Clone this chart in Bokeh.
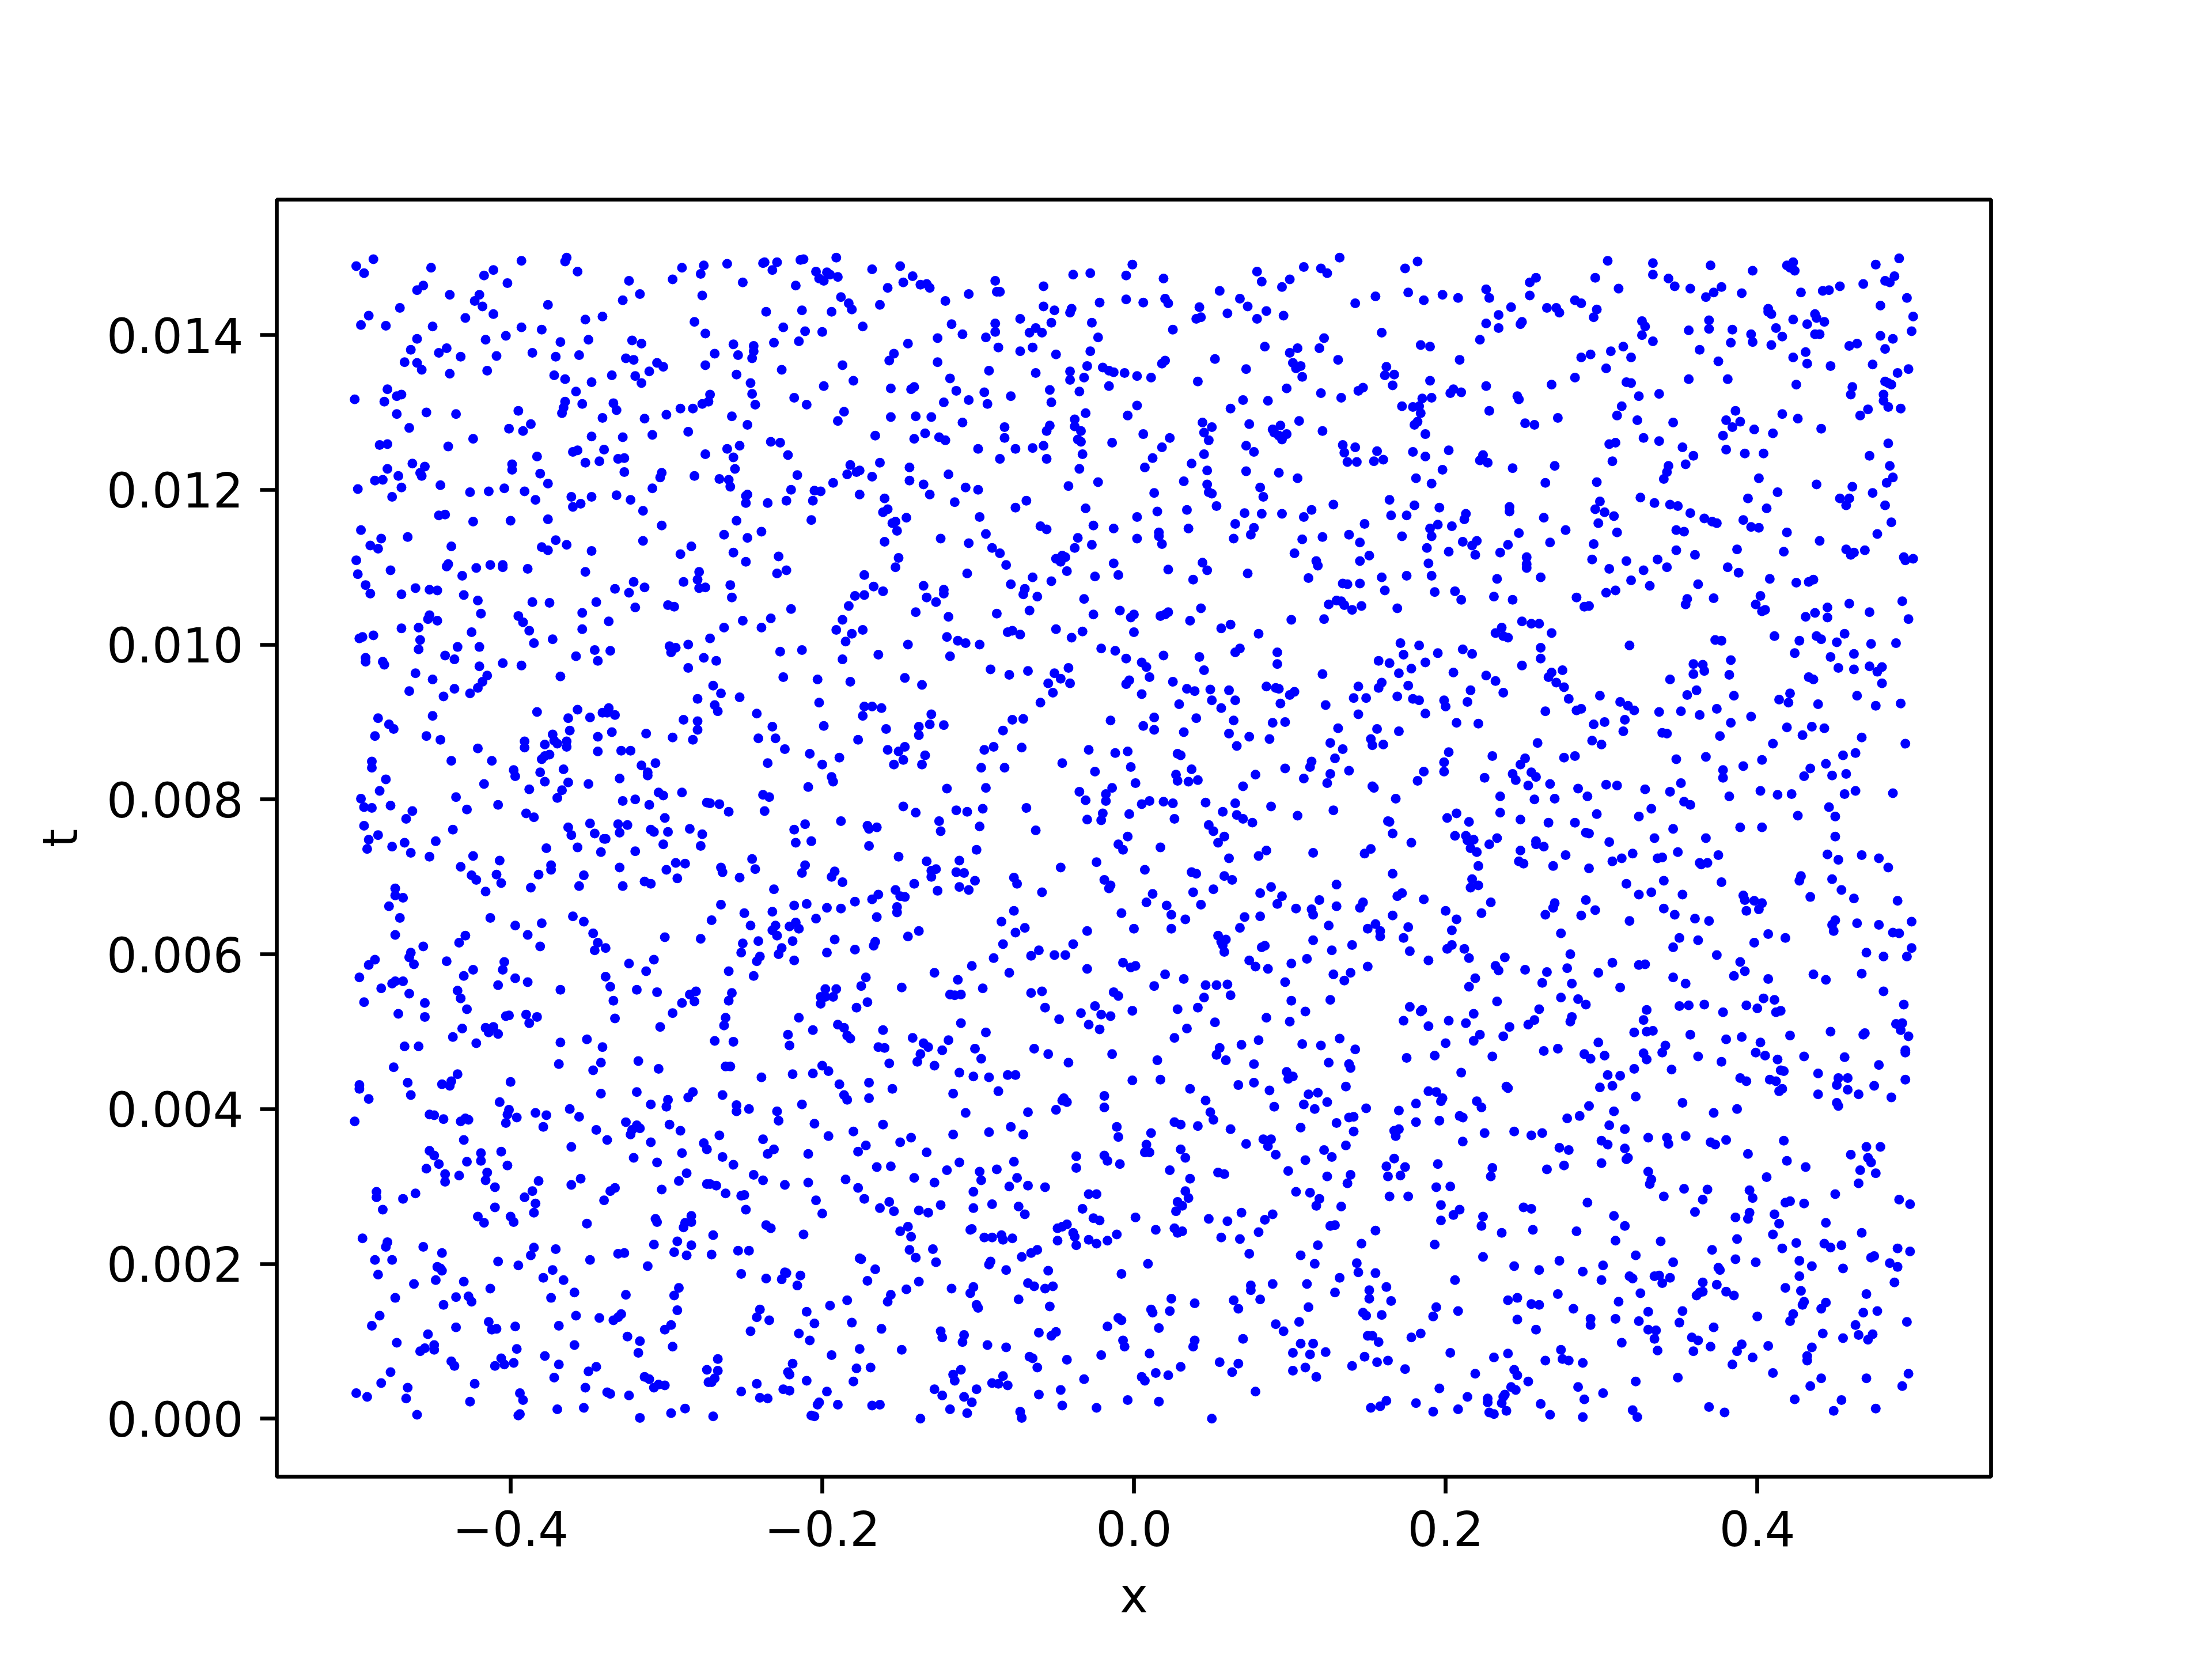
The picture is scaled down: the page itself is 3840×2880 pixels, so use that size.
from bokeh.plotting import figure
from bokeh.models import Range1d, FixedTicker
from bokeh.embed import file_html
from bokeh.resources import INLINE

# Each point: (x in thousandths, t in units of 1e-5)
top_a = [
(-488,1498),(-499,1489),(-494,1480),(-451,1487),(-417,1477),(-411,1484),(-393,1496),(-364,1500),(-365,1495),(-357,1482),(-402,1467),(-456,1464),(-460,1458),(-439,1452),(-420,1452),(-423,1444),(-418,1437),(-471,1435),(-491,1425),(-496,1413),(-480,1412),(-450,1411),(-429,1422),(-411,1427),(-376,1439),(-324,1470),(-317,1453),(-328,1445),(-296,1472),(-290,1487),(-276,1490),(-278,1479),(-277,1451),(-282,1417),(-275,1402),(-341,1424),(-352,1420),(-393,1410),(-380,1407),(-350,1394),(-368,1391),(-403,1399),(-416,1394),(-460,1395),(-464,1381),(-441,1383),(-446,1377),(-432,1372),(-409,1373),(-386,1377),(-371,1372),(-356,1374),(-322,1393),(-316,1389),(-326,1370),(-321,1368),(-306,1364),(-302,1359),(-311,1353),(-275,1361),(-335,1348),(-320,1347),(-316,1338),(-372,1348),(-365,1343),(-348,1339),(-468,1365),(-460,1364),(-457,1355),(-439,1350),(-415,1354),
(-479,1330),(-470,1323),(-473,1321),(-500,1317),(-481,1314),(-473,1298),(-454,1300),(-435,1298),(-395,1302),(-358,1327),(-365,1314),(-366,1306),(-367,1299),(-354,1311),(-334,1312),(-332,1303),(-341,1293),(-314,1292),(-300,1297),(-291,1305),(-283,1305),(-277,1311),
(-465,1280),(-401,1279),(-387,1285),(-392,1276),(-348,1269),(-328,1268),(-309,1271),(-286,1275),(-424,1266),(-484,1258),(-479,1259),(-440,1256),(-357,1251),(-360,1249),(-340,1252),(-275,1246),(-383,1243),(-331,1240),(-327,1241),(-352,1235),(-343,1237),(-399,1233),(-399,1226),(-463,1234),(-455,1230),(-479,1227),(-458,1222),(-457,1218),(-472,1218),(-381,1221),(-327,1223),(-303,1222),(-304,1216),(-282,1218),(-487,1212),(-482,1213),(-376,1208),(-498,1201),(-470,1203),(-445,1206),(-426,1197),(-414,1198),(-404,1202),(-391,1198),(-309,1202),(-476,1191),(-361,1191),(-348,1191),(-332,1193),(-384,1187),(-323,1187),(-355,1182),(-360,1178),(-315,1173),(-446,1167),(-442,1168),(-424,1159),(-400,1160),(-376,1162),(-303,1154),(-496,1148),(-483,1137),(-466,1139),(-371,1135),(-315,1134),(-490,1128),(-485,1124),(-438,1127),(-380,1126),(-376,1122),(-364,1129),(-348,1121),(-284,1127),(-291,1117),(-499,1109),(-440,1104),(-441,1101),(-413,1103),(-405,1103),(-405,1100),(-422,1099),(-389,1098),(-477,1096),(-498,1091),(-352,1094),(-431,1089),(-279,1094),(-280,1084),(-289,1081),(-321,1081),(-493,1077),(-279,1073),(-275,1074),(-314,1074),(-333,1072),(-324,1067),(-461,1073),(-452,1071),(-447,1070),(-490,1066),(-470,1065),(-430,1064),(-421,1057),(-386,1055),(-375,1054),(-345,1055),(-299,1051),(-295,1049),(-320,1048),(-419,1040),(-452,1038),(-453,1033),(-447,1031),(-395,1037),(-392,1029),(-354,1041),(-337,1030),
]
top_b = [
(-261,1492),(-238,1493),(-237,1494),(-229,1494),(-232,1484),(-214,1497),(-212,1498),(-191,1500),(-204,1482),(-197,1481),(-195,1478),(-190,1475),(-202,1473),(-199,1470),(-168,1485),(-150,1489),(-142,1476),(-148,1468),(-137,1465),(-133,1466),(-131,1461),(-158,1461),(-251,1468),(-217,1464),(-121,1444),(-106,1453),(-89,1470),(-88,1456),(-86,1456),(-58,1463),(-39,1478),(-28,1480),(-5,1477),(-1,1491),(-5,1446),(-22,1442),(-58,1437),(-51,1432),(-40,1434),(-41,1429),
(-188,1449),(-183,1441),(-181,1433),(-163,1439),(-194,1430),(-236,1430),(-213,1432),(-73,1421),(-89,1415),(-89,1404),(-117,1414),(-110,1401),(-95,1397),(-126,1396),(-53,1416),(-27,1416),(-63,1409),(-67,1403),(-59,1403),(-23,1397),(-174,1411),(-225,1410),(-211,1405),(-200,1404),(-215,1392),(-231,1390),(-257,1388),(-244,1386),(-244,1379),(-269,1376),(-254,1374),(-245,1370),(-145,1389),(-154,1376),(-157,1367),(-87,1384),(-73,1379),(-65,1384),(-50,1375),(-28,1379),(-126,1365),(-187,1361),(-93,1354),(-63,1351),(-41,1353),(-30,1360),(-20,1358),(-16,1354),(-13,1352),(-6,1351),(2,1347),(-226,1355),(-255,1349),(-246,1338),(-180,1341),(-118,1344),(-41,1342),(-32,1345),(-199,1334),(-156,1331),(-143,1330),(-141,1333),(-16,1334),(-114,1328),(-96,1326),(-79,1321),(-54,1329),(-35,1327),(-245,1324),(-272,1323),(-273,1314),(-218,1319),(-106,1316),(-122,1313),(-94,1311),(-53,1313),(-243,1310),(-210,1310),(2,1309),(-186,1301),(-258,1295),(-156,1294),(-140,1295),(-130,1294),(-31,1299),(-4,1296),(-190,1289),(-38,1291),(-248,1284),(-110,1287),(-83,1281),(-54,1283),(-56,1276),(-38,1282),(-34,1276),(-166,1270),(-134,1273),(-125,1268),(-121,1264),(-141,1266),(-83,1267),(-36,1265),(-34,1262),(-14,1261),(-233,1262),(-227,1261),(-253,1257),(-261,1253),(-100,1253),(-76,1253),(-65,1254),(-58,1257),(-33,1246),(-222,1245),(-257,1242),(-86,1240),(-56,1240),(-163,1235),(-182,1232),(-144,1229),(-256,1227),(-176,1225),(-178,1223),(-35,1227),(-216,1219),(-184,1220),(-168,1217),(-119,1220),(-144,1212),(-266,1214),(-260,1213),(-259,1204),(-193,1209),(-23,1210),(-135,1207),(-42,1205),(-108,1203),(-100,1200),(-220,1200),(-205,1199),(-201,1198),(-248,1194),(-249,1192),(-176,1194),(-131,1194),(-160,1189),(-223,1186),(-206,1186),(-249,1183),(-235,1183),(-115,1184),(-69,1186),(-76,1177),(-158,1175),(-161,1171),(-31,1176),(-146,1164),(-99,1165),(2,1165),(-255,1160),(-207,1161),(-153,1159),(-155,1157),(-60,1153),(-56,1149),(-26,1154),(-13,1150),(-152,1147),(-239,1146),(-263,1142),(-248,1138),(-160,1133),(-124,1137),(-95,1143),(-106,1131),(-36,1138),(-27,1129),(2,1137),(-91,1125),(-86,1118),(-38,1125),(-257,1119),(-228,1114),(-151,1112),(-249,1107),(-82,1103),(-50,1111),(-46,1115),(-44,1113),(-47,1107),(-13,1105),(-153,1100),(-223,1096),(-229,1092),(-107,1092),(-43,1095),(-173,1090),(-65,1087),(-25,1088),(-10,1090),(-53,1082),(-259,1077),(-79,1078),(-135,1076),(-167,1075),(-122,1071),(-122,1066),(-161,1069),(-70,1072),(-71,1065),(-258,1061),(-173,1064),(-179,1063),(-62,1062),(-133,1061),(-127,1055),(-32,1059),(-183,1050),(-220,1046),(-9,1044),(-140,1042),(-67,1044),(-88,1040),(-26,1039),(-119,1036),(0,1039),(-2,1035),(-233,1034),(-251,1031),(-187,1032),
]
top_c = [
(132,1500),(182,1495),(174,1486),(109,1488),(120,1486),(124,1480),(79,1482),(19,1473),(82,1469),(100,1472),(95,1462),(55,1457),(258,1474),(254,1468),(226,1459),(176,1455),(155,1450),(68,1447),(20,1447),(22,1441),(6,1442),(186,1445),(198,1452),(208,1448),(228,1448),(254,1451),(142,1441),(73,1437),(42,1436),(242,1436),(265,1435),(271,1435),(273,1429),(85,1431),(60,1428),(96,1425),(234,1426),(43,1423),(40,1421),(79,1421),(249,1417),(248,1414),(226,1415),(234,1409),(25,1407),(159,1403),(122,1396),(222,1394),(184,1387),(190,1385),(84,1385),(105,1383),(119,1383),(100,1377),(209,1368),(52,1369),(20,1367),(18,1363),(131,1368),(102,1364),(107,1360),(104,1357),(162,1359),(72,1356),(167,1349),(161,1348),(108,1346),(11,1345),(41,1340),(190,1341),(166,1335),(226,1334),(268,1336),(147,1332),(144,1328),(98,1331),(120,1325),(133,1319),(205,1330),(203,1325),(210,1326),(191,1319),(185,1318),(246,1321),(247,1317),(70,1316),(86,1315),(172,1308),(179,1307),(183,1308),(184,1299),(62,1305),(228,1302),(44,1287),(106,1289),(272,1293),(182,1288),(180,1284),(74,1285),(251,1286),(257,1284),(50,1281),(94,1283),(89,1278),(90,1274),(121,1276),(45,1274),(6,1272),(187,1272),(98,1272),(93,1270),(23,1267),(95,1265),(48,1264),(18,1255),(72,1257),(134,1258),(142,1255),(77,1249),(156,1250),(179,1249),(202,1251),(135,1248),(45,1246),(187,1243),(224,1245),(12,1241),(160,1239),(154,1237),(137,1236),(143,1236),(222,1238),(227,1235),(37,1234),(7,1229),(243,1228),(270,1231),(47,1225),(72,1224),(198,1226),(93,1222),(105,1215),(181,1215),(32,1211),(191,1208),(264,1209),(47,1207),(81,1203),(48,1197),(50,1195),(13,1196),(83,1191),(164,1187),(128,1181),(53,1179),(180,1180),(196,1177),(241,1178),(241,1172),(114,1174),(34,1174),(15,1172),(71,1170),(82,1169),(95,1169),(165,1167),(175,1167),(109,1165),(213,1169),(212,1162),(263,1164),(65,1156),(148,1156),(195,1155),(204,1153),(77,1151),(35,1150),(190,1150),(277,1148),(16,1145),(247,1144),(16,1140),(75,1142),(138,1142),(121,1139),(172,1140),(191,1140),(64,1137),(108,1136),(220,1134),(145,1132),(18,1130),(211,1133),(217,1128),(267,1132),(240,1129),(188,1125),(202,1120),(235,1119),(103,1118),(151,1115),(219,1116),(117,1108),(44,1106),(118,1102),(145,1108),(252,1113),(189,1105),(252,1104),(252,1099),(22,1097),(47,1096),(73,1092),(191,1089),(175,1089),(159,1087),(112,1086),(38,1084),(233,1085),(261,1087),(134,1079),(137,1078),(145,1079),(161,1070),(193,1068),(206,1069),(210,1058),(231,1062),(243,1058),(130,1057),(133,1056),(125,1052),(135,1051),(146,1050),(140,1045),(169,1047),(43,1047),(22,1042),(20,1039),(17,1037),(36,1031),(101,1032),(122,1033),(249,1030),(255,1027),(260,1027),
]
top_d = [
(304,1496),(491,1499),(333,1493),(370,1490),(423,1494),(419,1490),(421,1487),(424,1483),(397,1483),(476,1491),(296,1474),(333,1478),(343,1473),(488,1476),(482,1470),(485,1468),(311,1460),(347,1463),(357,1460),(377,1462),(372,1455),(367,1449),(390,1454),(428,1455),(442,1457),(446,1458),(453,1463),(468,1466),(496,1448),(283,1445),(287,1441),(479,1438),(297,1433),(295,1423),(407,1434),(407,1430),(409,1427),(437,1427),(438,1422),(443,1417),(500,1424),(326,1418),(328,1411),(369,1419),(369,1408),(423,1420),(432,1414),(356,1406),(384,1407),(412,1409),(499,1405),(326,1400),(396,1401),(437,1401),(440,1401),(416,1398),(479,1399),(487,1395),(333,1392),(397,1391),(383,1390),(409,1387),(464,1389),(459,1386),(314,1385),(306,1379),(363,1381),(482,1382),(431,1378),(293,1375),(287,1371),(319,1371),(423,1371),(375,1366),(432,1363),(447,1360),(474,1362),(303,1357),(497,1356),(490,1351),(283,1345),(356,1343),(381,1343),(316,1339),(319,1338),(482,1340),(484,1338),(486,1336),(425,1336),(461,1333),(337,1324),(324,1321),(460,1323),(481,1323),(481,1315),(313,1308),(484,1307),(492,1305),(471,1304),(386,1302),(416,1298),(466,1296),(310,1296),(426,1292),(380,1290),(389,1288),(323,1290),(346,1287),(384,1281),(398,1278),(441,1279),(410,1273),(378,1270),(327,1267),(305,1259),(309,1261),(337,1263),(484,1260),(352,1255),(380,1252),(359,1244),(392,1247),(404,1247),(472,1244),(307,1237),(354,1233),(343,1231),(485,1231),(342,1223),(340,1214),(401,1215),(487,1216),(297,1210),(483,1209),(438,1207),(461,1204),(413,1197),(474,1196),(325,1190),(394,1189),(453,1189),(459,1189),(299,1185),(334,1183),(344,1181),(349,1179),(457,1180),(482,1180),(296,1175),(406,1176),(302,1171),(357,1170),(308,1166),(366,1163),(391,1161),(371,1159),(374,1157),(298,1157),(486,1158),(396,1152),(401,1151),(348,1148),(353,1146),(310,1145),(419,1145),(477,1143),(440,1134),(295,1130),(387,1123),(457,1123),(462,1119),(460,1116),(469,1122),(348,1122),(417,1120),(360,1116),(494,1113),(495,1109),(500,1111),(294,1110),(316,1108),(336,1110),(342,1100),(305,1098),(327,1096),(381,1100),(388,1093),(319,1083),(408,1085),(425,1080),(436,1084),(433,1081),(331,1076),(362,1078),(309,1070),(303,1067),(402,1063),(284,1061),(355,1059),(372,1060),(354,1052),(493,1056),(399,1052),(292,1050),(289,1049),(459,1053),(445,1048),(472,1042),(405,1045),(403,1043),(437,1041),(431,1036),(445,1035),(497,1033),
]
mid_a = [
(-497,1008),(-495,1010),(-488,1012),(-470,1021),(-459,1022),(-458,1006),(-459,994),(-425,1016),(-388,1018),(-385,1002),(-373,1007),(-354,1020),(-434,997),(-420,997),(-346,993),(-336,992),(-358,985),(-344,979),(-298,998),(-294,996),(-297,990),(-286,1000),(-276,983),(-442,986),(-436,981),(-493,983),(-493,978),(-482,978),(-481,974),(-405,976),(-420,972),(-393,973),(-286,970),(-461,963),(-450,955),(-415,960),(-418,952),(-421,944),(-368,959),(-436,943),(-426,937),(-465,940),(-443,933),(-280,930),(-337,918),(-341,912),(-338,912),(-333,909),(-357,916),(-349,906),(-363,905),(-383,913),(-450,908),(-485,905),(-478,897),(-475,891),(-289,903),(-280,901),(-280,890),(-362,889),(-335,887),(-313,885),(-487,882),(-454,882),(-344,881),(-296,880),(-445,877),(-283,877),(-373,884),(-372,876),(-370,872),(-378,871),(-364,875),(-364,868),(-391,875),(-391,867),(-421,866),(-344,862),(-329,863),(-323,863),(-375,858),(-378,856),(-380,852),(-489,849),(-438,850),(-412,850),(-307,847),(-316,844),(-489,841),(-398,838),(-366,839),(-381,835),(-312,835),(-312,831),(-397,830),(-480,826),(-330,827),(-378,823),(-363,822),(-417,820),(-350,820),(-484,811),(-388,813),(-367,812),(-305,809),(-290,809),(-302,805),(-496,801),(-435,803),(-370,802),(-328,798),(-320,800),(-274,796),(-494,790),(-489,789),(-477,792),(-408,793),(-311,793),(-428,787),(-463,785),(-390,782),(-385,777),(-467,775),(-301,776),(-331,768),(-325,767),(-349,769),(-494,766),(-363,764),(-437,761),(-310,761),(-285,762),(-308,758),(-299,758),(-330,757),(-346,756),(-361,754),(-277,755),(-485,754),(-340,749),(-339,749),(-491,748),(-448,746),(-468,744),(-302,742),(-278,740),(-476,739),(-377,737),(-357,738),(-492,736),(-342,732),(-320,733),(-464,731),(-452,726),(-424,727),(-407,721),(-294,718),(-288,717),(-432,713),(-374,715),(-374,709),(-330,712),(-300,709),(-425,702),(-409,703),(-382,703),(-353,702),(-422,696),(-406,692),(-293,698),(-314,694),(-310,691),(-356,688),(-328,688),(-387,686),(-474,685),(-416,681),(-474,676),(-469,673),(-478,662),(-360,649),(-353,642),(-413,647),(-471,647),(-397,637),(-380,640),(-429,624),(-389,625),(-474,625),(-347,627),(-301,622),(-278,620),(-433,615),(-344,615),(-456,610),(-381,610),(-339,608),(-346,605),(-464,602),(-465,596),(-487,593),(-491,586),(-441,591),(-462,587),(-308,593),(-324,588),(-404,590),(-405,580),(-424,580),(-430,572),(-313,578),(-497,570),(-397,569),(-339,571),(-469,565),(-474,565),(-476,562),(-389,564),(-408,560),(-336,558),(-483,556),(-368,554),(-319,554),(-434,553),(-306,551),(-281,552),(-285,548),(-465,549),(-432,543),(-334,540),(-282,539),(-494,538),(-455,537),(-290,537),(-428,529),(-296,524),(-472,523),(-390,522),(-403,520),(-401,521),(-383,519),(-455,519),(-333,517),(-388,511),(-304,506),(-431,504),(-416,505),(-411,506),(-414,499),(-408,497),(-437,493),(-351,490),(-368,486),(-422,485),(-468,481),(-459,481),(-341,480),
]
mid_b = [
(-272,1008),(-263,1022),(-239,1022),(-191,1019),(-181,1014),(-174,1019),(-185,1004),(-145,1000),(-120,1010),(-113,1005),(-108,1002),(-99,1000),(-81,1016),(-78,1018),(-73,1013),(-50,1020),(-40,1009),(-33,1017),(0,1016),(-227,991),(-213,993),(-164,987),(-187,981),(-118,985),(-21,995),(-12,992),(-5,982),(-268,979),(-92,968),(-80,961),(-68,966),(-42,970),(-51,963),(-47,956),(-55,950),(-41,950),(-52,938),(-3,954),(-5,949),(-225,958),(-203,955),(-182,952),(-147,957),(-136,948),(-270,947),(-265,937),(-253,932),(-202,925),(-60,925),(-269,922),(-267,914),(-173,920),(-168,920),(-162,918),(-242,911),(-130,910),(-174,908),(-131,897),(-122,896),(-78,903),(-71,904),(-15,902),(-232,894),(-199,895),(-138,894),(-159,891),(-84,889),(-138,883),(-241,879),(-230,879),(-177,877),(-147,868),(-90,868),(-72,867),(-224,865),(-158,864),(-96,864),(-29,864),(-151,862),(-4,862),(-12,860),(-208,859),(-189,854),(-134,857),(-148,851),(-235,847),(-46,847),(-200,845),(-154,845),(-136,845),(-98,841),(-83,841),(-2,842),(-25,836),(-194,829),(-193,823),(1,821),(-209,816),(-120,814),(-95,815),(-14,815),(-35,810),(-18,807),(-238,806),(-234,803),(-31,799),(-18,798),(-266,794),(-272,795),(-260,784),(-237,785),(-148,791),(-114,786),(-97,788),(-69,789),(-140,783),(-107,784),(-20,782),(-3,781),(-188,772),(-125,772),(-30,774),(-21,773),(-211,768),(-171,766),(-165,764),(-170,762),(-99,765),(-218,761),(-124,759),(-63,760),(-207,746),(-217,744),(-4,752),(-10,742),(-170,740),(-7,735),(-101,735),(-151,726),(-245,723),(-112,721),(-133,720),(-24,719),(-211,715),(-47,712),(-265,712),(-243,710),(-264,706),(-127,710),(-130,708),(-114,706),(-192,707),(-109,705),(-213,705),(-194,700),(-253,699),(-130,700),(-77,699),(-19,696),(-187,693),(-102,695),(-75,691),(-141,691),(-15,689),(-16,685),(-112,687),(-231,684),(-153,683),(-106,683),(-126,682),(-59,680),(-164,677),(-150,675),(-147,674),(-168,671),(-179,668),(-265,664),(-218,663),(-210,665),(-197,660),(-188,659),(-152,661),(-152,654),(-77,656),(-232,655),(-250,653),(-8,653),(-271,644),(-165,648),(-204,646),(-85,642),(-217,641),(-246,637),(-230,637),(-221,636),(-215,633),(-232,631),(-70,634),(0,633),(-138,630),(-30,630),(-76,628),(-229,624),(-145,623),(-192,619),(-241,617),(-219,617),(-251,614),(-166,616),(-167,611),(-84,613),(-39,613),(-226,608),(-179,606),(-61,605),(-252,602),(-197,602),(-228,600),(-66,598),(-51,599),(-44,599),(-240,597),(-218,592),(-242,591),(-90,595),(-7,589),(-104,585),(1,585),(-2,583),(-30,581),(-260,578),(-128,576),(-80,576),(-244,572),(-172,570),(-113,567),(-175,559),(-149,557),(-97,556),(-198,555),(-191,555),(-258,550),(-59,552),(-13,551),(-66,550),(-118,548),(-115,547),(-111,548),(-201,545),(-198,545),(-193,545),(-10,546),(-260,540),(-171,538),(-201,536),(-25,533),(-178,531),(-57,531),(-34,524),(-1,527),(-21,522),(-15,520),(-215,518),(-262,518),(-48,516),(-263,508),(-190,509),(-111,511),(-186,505),(-29,509),(-161,502),(-206,502),(-22,503),(-95,499),(-222,496),(-184,495),(-182,491),(-142,492),(-269,488),(-257,487),(-135,485),(-119,489),(-132,480),(-221,482),(-164,480),(-160,479),(-123,476),(-102,478),(-64,478),
]
mid_c = [
(56,1021),(62,1026),(80,1014),(232,1015),(236,1022),(237,1011),(240,1009),(268,1015),(171,1002),(183,999),(195,989),(211,994),(217,988),(261,996),(261,982),(68,995),(65,990),(92,990),(92,975),(19,986),(42,984),(157,979),(164,976),(187,977),(173,987),(5,977),(8,971),(45,967),(10,958),(121,962),(170,963),(178,969),(205,964),(249,973),(226,960),(268,964),(275,967),(266,958),(232,953),(25,952),(271,951),(159,951),(157,944),(144,946),(176,947),(85,946),(91,944),(93,943),(34,943),(39,940),(49,942),(61,941),(276,945),(216,941),(237,938),(103,939),(100,935),(5,936),(169,933),(141,931),(149,931),(179,930),(183,928),(199,928),(279,930),(50,928),(65,928),(214,926),(29,923),(94,924),(123,922),(200,920),(56,918),(264,914),(187,911),(144,910),(13,906),(40,905),(64,902),(89,899),(97,900),(207,899),(221,898),(6,895),(131,892),(156,891),(13,890),(170,888),(32,887),(61,885),(74,881),(87,878),(152,878),(259,873),(126,873),(153,870),(160,871),(66,869),(134,865),(28,859),(30,857),(202,861),(230,856),(129,853),(251,853),(276,854),(199,848),(248,845),(114,849),(113,842),(37,839),(97,840),(199,836),(186,836),(27,832),(78,832),(126,833),(138,837),(243,833),(255,835),(258,829),(109,827),(225,828),(245,825),(28,824),(35,823),(41,825),(182,824),(124,821),(267,820),(253,818),(70,817),(153,817),(154,815),(235,804),(168,801),(257,800),(270,801),(10,798),(5,794),(19,797),(25,795),(46,796),(65,795),(88,791),(57,784),(128,786),(207,782),(235,783),(66,780),(105,779),(70,775),(26,775),(201,776),(248,774),(76,770),(163,772),(164,771),(215,771),(266,770),(48,767),(51,759),(166,756),(213,753),(58,752),(206,753),(233,750),(218,748),(214,747),(258,746),(258,742),(263,739),(54,744),(178,744),(228,742),(17,738),(152,736),(248,734),(85,734),(115,731),(216,737),(220,732),(148,730),(80,727),(277,728),(61,724),(247,720),(250,717),(7,709),(221,714),(269,714),(37,706),(40,704),(166,704),(58,701),(63,696),(217,697),(221,689),(130,690),(216,686),(88,687),(51,684),(12,678),(38,680),(81,679),(172,679),(169,675),(95,675),(186,671),(119,670),(229,667),(8,667),(147,667),(270,666),(92,665),(21,663),(43,664),(130,662),(269,660),(145,660),(104,659),(114,658),(200,656),(115,651),(223,653),(24,651),(264,651),(166,650),(81,649),(71,648),(33,645),(207,645),(155,639),(125,637),(176,635),(68,634),(150,633),(24,633),(158,630),(204,631),(274,627),(54,624),(59,619),(158,623),(173,621),(115,618),(56,616),(84,611),(82,609),(140,612),(57,612),(204,612),(201,607),(212,607),(127,605),(177,604),(58,603),(280,600),(111,594),(238,596),(215,595),(74,592),(189,592),(101,588),(232,585),(78,584),(150,584),(278,582),(86,581),(234,579),(251,580),(265,577),(139,576),(20,574),(128,574),(32,568),(219,569),(135,566),(97,564),(262,563),(281,562),(13,559),(46,560),(53,560),(60,561),(215,558),(62,547),(45,544),(274,544),(101,540),(126,541),(233,539),(177,532),(41,531),(28,529),(260,529),(185,528),(184,526),(110,526),(218,523),(85,518),(257,515),(173,514),(202,514),(100,513),(281,519),(280,513),(52,512),(213,511),(253,509),(189,507),(241,506),(34,504),(222,496),(26,492),(237,494),(132,491),(80,489),(218,488),(69,483),(108,484),(120,482),(200,485),(55,479),(142,477),(272,478),(263,475),
]
mid_d = [
(318,999),(373,1006),(377,1005),(411,1011),(438,1011),(441,1007),(427,1005),(456,1014),(451,1003),(473,1001),(489,1002),(424,989),(462,988),(447,984),(383,980),(359,975),(365,974),(366,966),(359,962),(472,972),(480,971),(452,970),(462,968),(477,965),(382,961),(433,958),(436,955),(344,955),(480,950),(361,941),(355,935),(421,937),(299,934),(385,934),(464,934),(414,929),(312,926),(420,925),(439,923),(317,921),(492,924),(476,921),(321,915),(287,917),(284,915),(374,917),(337,913),(351,914),(363,909),(396,907),(302,900),(315,903),(295,897),(383,899),(435,894),(419,893),(443,892),(314,888),(339,886),(342,885),(429,883),(376,882),(467,880),(410,872),(294,876),(300,871),(495,872),(463,860),(283,856),(455,857),(348,852),(367,855),(403,851),(444,846),(391,843),(434,840),(378,838),(457,833),(448,831),(430,830),(378,828),(303,819),(310,818),(285,814),(351,821),(328,813),(344,810),(402,811),(463,811),(456,807),(487,808),(422,807),(413,806),(291,804),(382,804),(353,797),(357,793),(446,790),(332,788),(297,781),(426,779),(450,778),(324,778),(283,770),(389,764),(403,764),(346,762),(290,757),(292,756),(450,752),(334,750),(367,750),(305,745),(349,732),(320,730),(445,729),(467,728),(375,728),(339,725),(336,724),(313,724),(307,720),(452,722),(478,724),(363,718),(368,718),(364,716),(484,712),(292,711),(428,701),(427,695),(448,697),(340,695),(377,693),(316,691),(454,683),(332,680),(324,677),(352,677),(391,676),(434,674),(462,672),(392,670),(398,669),(290,670),(403,666),(490,669),(296,657),(340,659),(401,658),(393,656),(287,650),(347,651),(360,646),(369,643),(318,643),(450,644),(499,642),(464,640),(448,638),(478,638),(449,630),(487,628),(491,627),(407,626),(418,621),(350,621),(362,618),(398,615),(346,609),(499,608),(470,602),(374,599),(481,597),(496,597),(389,590),(307,589),(328,587),(324,586),(392,578),(298,576),(436,574),(467,575),(385,572),(346,570),(407,568),(444,567),(354,562),(312,557),(481,552),(404,543),(411,541),(285,542),(290,535),(494,535),(350,533),(356,534),(366,535),(393,534),(400,530),(378,525),(415,527),(412,525),(329,528),(327,515),(493,511),(489,510),(492,502),(321,499),(329,500),(333,501),(447,500),(469,498),(468,496),(357,496),(497,494),(421,495),(390,493),(380,490),(298,486),(402,486),(341,482),(495,476),
]
low_a = [
(-475,454),(-369,458),(-342,460),(-347,450),(-318,462),(-305,452),(-434,445),(-438,436),(-444,432),(-439,430),(-497,431),(-497,426),(-466,434),(-400,435),(-464,418),(-342,420),(-319,422),(-283,422),(-286,415),(-299,412),(-491,413),(-407,409),(-310,406),(-300,403),(-401,399),(-402,393),(-362,400),(-384,395),(-377,392),(-452,393),(-449,392),(-356,390),(-396,389),(-443,387),(-429,388),(-427,386),(-432,384),(-500,384),(-403,382),(-326,383),(-319,379),(-317,375),(-322,373),(-298,380),(-379,377),(-345,373),(-291,372),(-323,367),(-338,360),(-430,360),(-310,357),(-276,356),(-361,351),(-274,348),(-452,346),(-406,345),(-419,343),(-290,343),(-449,340),(-419,333),(-428,332),(-321,337),(-306,331),(-446,329),(-402,327),(-454,323),(-415,318),(-442,316),(-433,314),(-287,317),(-355,310),(-416,308),(-382,307),(-292,307),(-442,306),(-361,302),(-410,299),(-333,298),(-274,303),(-303,296),(-336,294),(-386,294),(-486,293),(-461,291),(-486,286),(-391,286),(-469,284),(-340,282),(-384,278),(-410,273),(-482,270),(-385,266),(-421,261),(-400,261),(-284,262),(-307,258),(-398,254),(-417,253),(-306,254),(-351,252),(-284,254),(-288,253),(-289,247),(-495,233),(-479,228),(-480,222),(-308,225),(-293,229),(-284,224),(-385,221),(-456,222),(-371,219),(-387,211),(-444,214),(-327,214),(-331,213),(-295,215),(-287,211),(-487,205),(-476,205),(-349,205),(-408,203),(-395,198),(-447,196),(-445,194),(-312,197),(-444,191),(-373,192),(-485,186),(-379,182),(-448,179),(-366,179),(-430,177),(-462,174),(-413,168),(-292,169),(-359,163),(-326,160),(-295,159),(-474,156),(-435,157),(-427,158),(-374,156),(-425,151),(-443,147),(-293,140),(-484,133),(-358,133),(-343,130),(-329,135),(-331,131),(-334,127),(-414,125),(-489,120),(-369,120),(-397,119),(-297,121),(-435,118),(-409,116),(-412,115),(-301,115),(-453,109),(-325,106),(-317,100),(-473,98),(-449,95),(-359,95),(-455,91),(-396,90),(-449,89),(-458,87),(-296,93),(-318,85),(-378,81),(-406,78),(-438,74),(-398,72),(-369,70),(-410,68),(-436,68),(-404,70),(-345,67),(-274,63),(-477,60),(-350,61),(-314,54),(-372,53),(-311,51),(-483,46),(-273,47),(-423,45),(-301,43),(-305,44),(-308,40),(-466,40),(-352,40),(-394,33),(-499,33),(-338,34),(-336,32),(-492,28),(-324,30),(-392,24),(-467,26),(-426,22),(-353,14),(-288,13),(-370,12),(-394,6),(-395,4),(-460,5),(-297,7),(-317,1),
]
low_b = [
(-262,455),(-259,455),(-200,456),(-196,449),(-206,446),(-219,445),(-239,441),(-189,432),(-157,459),(-139,461),(-137,471),(-128,456),(-98,465),(-112,447),(-103,442),(-93,441),(-81,444),(-76,444),(-55,471),(-42,460),(-14,471),(-1,437),(-170,434),(-155,426),(-264,418),(-186,418),(-184,412),(-170,414),(-116,420),(-87,423),(-19,417),(-45,414),(-46,411),(-43,409),(-255,405),(-213,406),(-19,402),(-255,397),(-247,400),(-229,397),(-50,399),(-108,395),(-68,396),(-228,385),(-205,381),(-161,380),(-11,377),(-180,371),(-79,377),(-266,366),(-196,365),(-116,367),(-93,370),(-71,367),(-10,364),(-238,361),(-143,363),(-150,357),(-172,353),(-231,348),(-177,345),(-235,342),(-209,342),(-133,344),(-37,339),(-19,340),(-17,333),(-264,338),(-257,328),(-9,329),(-112,331),(-77,332),(-165,325),(-156,326),(-120,321),(-88,322),(-99,319),(-37,324),(-244,315),(-141,311),(-75,311),(-238,308),(-185,309),(-98,308),(-209,305),(-128,305),(-272,303),(-268,301),(-224,302),(-80,300),(-68,301),(-57,299),(-177,298),(-262,291),(-103,293),(-250,289),(-252,288),(-29,290),(-24,290),(-173,284),(-204,282),(-157,280),(-124,276),(-91,277),(-103,272),(-74,274),(-163,272),(-138,269),(-33,271),(-154,268),(-249,270),(-132,266),(-70,264),(-200,265),(-26,259),(-22,256),(1,260),(-236,250),(-233,246),(-145,248),(-43,251),(-46,248),(-49,246),(-150,242),(-104,245),(-105,244),(-270,237),(-212,238),(-143,235),(-85,237),(-39,240),(-11,238),(-96,234),(-91,234),(-78,233),(-84,231),(-38,235),(-29,231),(-17,230),(-49,230),(-24,226),(-37,224),(-62,218),(-66,214),(-144,218),(-129,219),(-254,217),(-247,217),(-271,212),(-72,209),(-140,208),(-176,207),(-175,206),(-92,203),(-127,202),(-93,199),(-166,193),(-82,192),(-55,191),(-224,189),(-223,188),(-252,187),(-8,187),(-214,185),(-236,181),(-226,180),(-171,178),(-138,177),(-68,175),(-64,171),(-216,172),(-103,170),(-52,171),(-117,168),(-146,167),(-57,168),(-105,162),(-156,160),(-184,153),(-158,151),(-74,154),(-195,146),(-101,147),(-100,143),(-54,145),(-240,141),(-210,138),(-242,131),(-10,130),(-8,127),(-234,127),(-205,123),(-181,124),(-17,119),(-162,116),(-246,113),(-124,113),(-215,110),(-61,111),(-50,112),(-109,108),(-123,105),(-53,107),(-208,101),(-110,99),(-7,101),(-94,95),(-6,93),(-82,92),(-176,90),(-149,89),(-194,82),(-21,82),(-67,80),(-65,78),(-267,77),(-43,76),(-219,71),(-62,66),(-178,65),(-169,66),(-267,62),(-111,63),(-222,60),(-221,57),(-116,57),(-84,55),(-32,51),(-269,52),(-271,47),(-210,49),(-115,49),(-180,48),(-242,45),(-91,46),(-87,45),(-81,43),(-101,38),(-128,38),(-225,38),(-221,36),(-47,37),(-252,35),(-197,35),(-61,31),(-123,30),(-109,28),(-240,27),(-235,26),(-104,21),(-202,21),(-4,24),(-203,18),(-190,18),(-168,17),(-163,18),(-46,17),(-24,14),(-118,12),(-73,9),(-107,7),(-207,4),(-205,3),(-270,3),(-72,1),(-137,0),
]
low_c = [
(15,463),(53,470),(59,463),(77,458),(125,460),(138,458),(139,453),(175,466),(193,469),(230,468),(210,447),(98,448),(102,442),(99,439),(17,438),(77,434),(67,431),(136,429),(239,429),(240,427),(36,426),(87,424),(189,423),(194,422),(112,419),(118,421),(198,414),(197,410),(46,411),(124,409),(220,410),(109,406),(181,407),(116,400),(90,403),(223,402),(149,401),(170,398),(49,396),(209,391),(211,389),(138,389),(141,390),(278,388),(51,386),(181,383),(196,385),(130,382),(26,383),(30,380),(41,378),(107,376),(62,374),(170,374),(167,372),(141,371),(225,369),(244,371),(262,369),(255,366),(168,365),(11,369),(83,361),(88,361),(211,358),(86,352),(72,355),(8,354),(136,353),(273,350),(30,348),(122,347),(7,344),(10,344),(279,347),(91,341),(33,337),(127,338),(167,336),(110,334),(195,329),(162,326),(174,325),(276,327),(230,324),(23,321),(99,320),(265,322),(54,318),(58,316),(171,314),(163,313),(124,313),(139,315),(229,313),(36,310),(137,304),(194,299),(203,300),(33,294),(104,293),(113,292),(35,285),(164,287),(176,287),(119,284),(28,280),(197,276),(31,275),(117,275),(133,274),(250,273),(255,271),(209,270),(27,268),(69,266),(89,264),(205,263),(224,261),(48,258),(84,257),(60,255),(197,256),(129,250),(126,249),(223,249),(26,246),(14,244),(31,242),(28,240),(155,243),(256,244),(80,241),(236,240),(56,234),(68,232),(146,226),(118,224),(193,225),(74,213),(107,211),(224,209),(273,204),(143,201),(9,200),(116,200),(244,197),(260,192),(144,189),(155,188),(132,182),(206,179),(75,172),(89,174),(111,174),(75,166),(162,170),(151,166),(129,163),(272,161),(24,155),(151,155),(64,153),(81,154),(240,153),(246,156),(165,152),(39,149),(255,148),(260,147),(112,144),(194,144),(11,141),(67,142),(23,139),(208,139),(12,137),(147,137),(149,133),(159,134),(192,132),(246,128),(106,125),(91,122),(96,113),(16,117),(258,115),(184,110),(150,107),(153,107),(178,105),(70,103),(39,101),(157,99),(115,97),(107,97),(38,93),(123,86),(102,85),(10,84),(113,83),(203,85),(274,89),(240,84),(148,80),(231,79),(264,75),(275,77),(279,75),(55,73),(156,73),(163,75),(67,71),(30,67),(140,68),(110,66),(102,62),(244,63),(174,64),(14,59),(63,60),(246,56),(22,56),(117,54),(219,58),(5,54),(7,49),(253,48),(242,41),(196,39),(78,35),(245,37),(238,31),(214,28),(227,26),(237,28),(162,23),(16,22),(227,21),(181,20),(236,20),(261,19),(158,16),(208,12),(152,14),(192,9),(239,10),(228,8),(231,6),(267,5),(50,0),
]
low_d = [
(289,471),(302,469),(293,465),(327,472),(339,473),(329,464),(362,468),(377,461),(399,473),(405,469),(413,464),(430,468),(456,467),(495,473),(478,457),(321,452),(345,451),(415,450),(417,449),(304,444),(312,443),(439,446),(452,440),(458,440),(389,440),(393,436),(408,438),(412,436),(495,438),(451,431),(307,430),(299,428),(475,430),(416,426),(414,423),(458,425),(439,419),(465,419),(322,416),(486,415),(352,408),(451,408),(452,404),(292,404),(387,400),(308,397),(372,395),(286,391),(305,379),(315,374),(330,363),(342,363),(354,365),(380,360),(343,355),(370,357),(373,354),(417,359),(300,359),(304,354),(315,349),(470,351),(479,351),(394,342),(460,341),(471,337),(317,337),(316,335),(419,333),(300,330),(473,331),(431,325),(466,321),(330,319),(476,317),(406,312),(332,309),(331,303),(465,304),(353,297),(368,296),(395,295),(450,290),(340,287),(397,285),(365,283),(491,283),(421,281),(418,279),(430,278),(291,279),(498,277),(360,267),(395,266),(308,262),(411,264),(386,260),(394,258),(444,253),(414,252),(315,249),(284,242),(467,240),(410,238),(387,232),(309,230),(338,229),(443,226),(425,227),(454,224),(447,221),(416,220),(490,220),(371,218),(498,216),(322,211),(475,210),(473,208),(386,206),(427,204),(346,202),(399,202),(485,201),(301,198),(435,197),(490,196),(455,194),(375,195),(376,192),(288,190),(337,185),(334,184),(318,184),(344,182),(320,181),(427,184),(300,179),(365,176),(339,175),(488,176),(374,173),(418,169),(428,165),(365,164),(380,164),(363,163),(325,162),(470,161),(361,159),(385,159),(430,151),(444,150),(311,151),(429,147),(441,142),(282,142),(352,139),(330,138),(477,139),(468,137),(423,135),(400,132),(293,129),(309,129),(421,126),(324,126),(350,124),(496,125),(293,121),(463,121),(372,118),(330,115),(335,114),(442,110),(474,109),(465,108),(358,105),(334,103),(455,104),(362,101),(471,102),(313,98),(390,96),(407,94),(370,93),(435,92),(336,88),(359,87),(387,87),(432,81),(397,79),(432,75),(288,72),(384,70),(410,59),(497,58),(349,53),(441,52),(470,52),(322,48),(285,41),(434,42),(493,42),(301,33),(289,25),(424,25),(454,24),(369,15),(476,13),(320,11),(379,8),(449,10),(323,2),(288,2),
]

x_ticks = [-0.4, -0.2, 0.0, 0.2, 0.4]
x_labels = ["\u22120.4", "\u22120.2", "0.0", "0.2", "0.4"]
t_ticks = [0.0, 0.002, 0.004, 0.006, 0.008, 0.010, 0.012, 0.014]
t_labels = ["0.000", "0.002", "0.004", "0.006", "0.008", "0.010", "0.012", "0.014"]

points = top_a + top_b + top_c + top_d + mid_a + mid_b + mid_c + mid_d + low_a + low_b + low_c + low_d
x = [p[0] / 1000 for p in points]
t = [p[1] / 100000 for p in points]

p = figure(width=3824, height=2864, output_backend="svg", toolbar_location=None,
           x_range=Range1d(-0.55, 0.55), y_range=Range1d(-0.00075, 0.01575),
           min_border_left=480, min_border_right=368, min_border_top=346, min_border_bottom=301,
           x_axis_label="x", y_axis_label="t")
p.scatter(x, t, size=17, color="#0000ff", line_color=None, marker="circle")

p.grid.visible = False
p.outline_line_color = "black"
p.outline_line_width = 6.67
p.background_fill_color = "white"
p.border_fill_color = "white"

for axis, ticks, labels in ((p.xaxis[0], x_ticks, x_labels), (p.yaxis[0], t_ticks, t_labels)):
    axis.ticker = FixedTicker(ticks=ticks)
    axis.major_label_overrides = dict(zip(ticks, labels))
    axis.minor_tick_line_color = None
    axis.axis_line_color = None
    axis.major_tick_line_color = "black"
    axis.major_tick_line_width = 6.67
    axis.major_tick_in = 0
    axis.major_tick_out = 29
    axis.major_label_text_font = "DejaVu Sans"
    axis.major_label_text_font_size = "83px"
    axis.major_label_text_color = "black"
    axis.major_label_standoff = 29
    axis.axis_label_text_font = "DejaVu Sans"
    axis.axis_label_text_font_size = "83px"
    axis.axis_label_text_font_style = "normal"
    axis.axis_label_text_color = "black"
p.xaxis[0].axis_label_standoff = 35
p.yaxis[0].axis_label_standoff = 28

open("out.html", "w").write(file_html(p, INLINE))
